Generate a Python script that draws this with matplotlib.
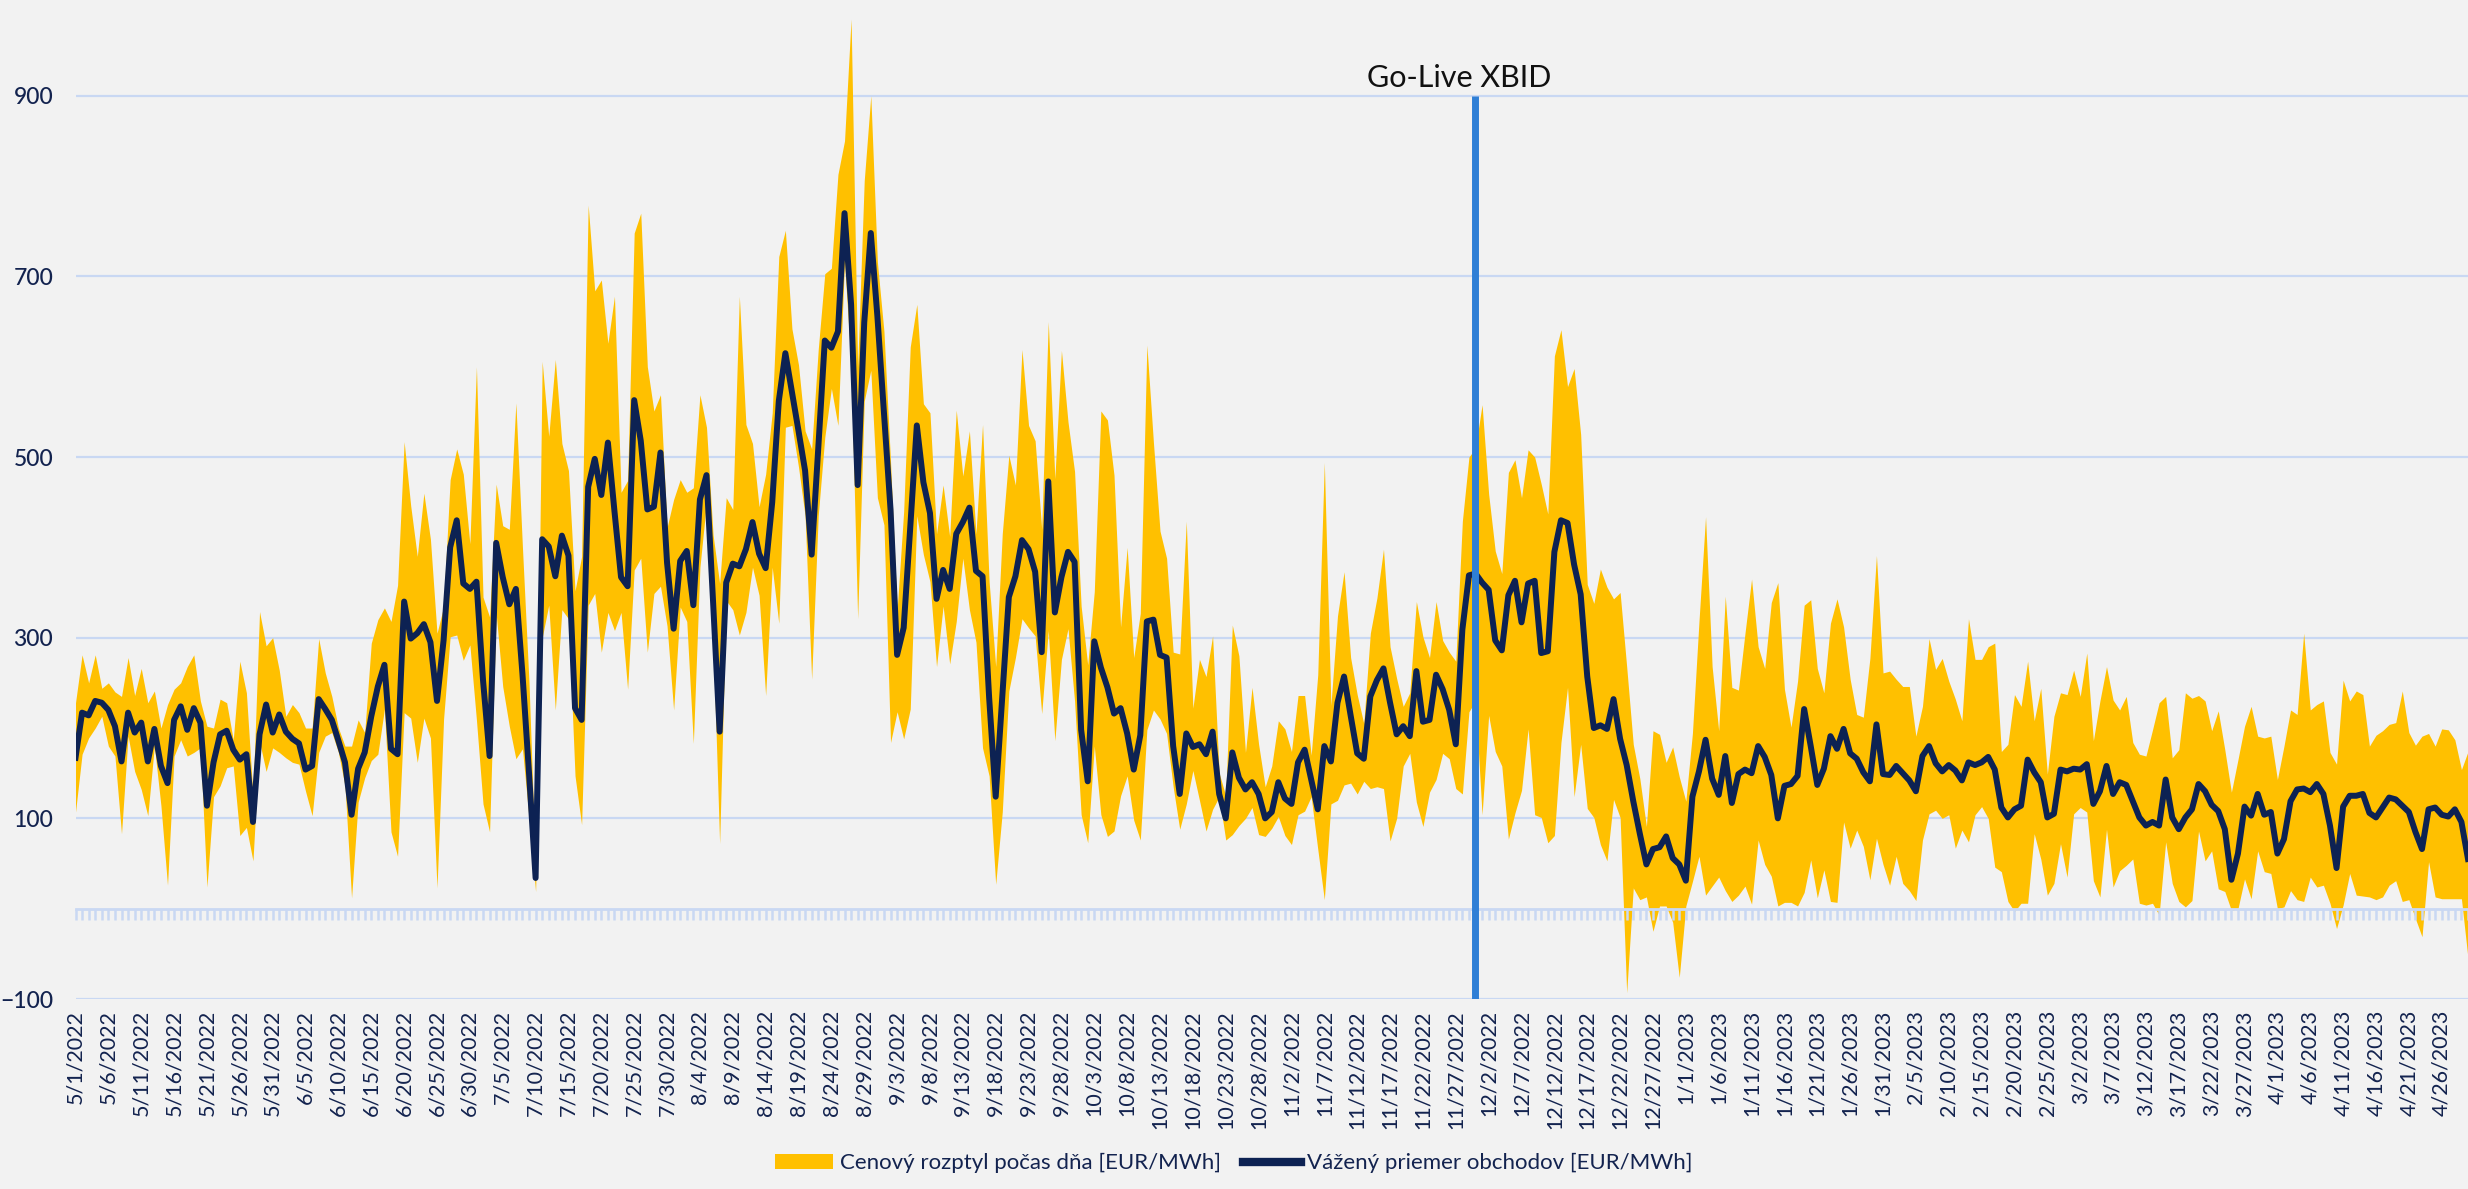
import matplotlib
matplotlib.use("Agg")
import matplotlib.pyplot as plt
from matplotlib import font_manager
from matplotlib.patches import Patch
from matplotlib.lines import Line2D
import numpy as np
import pandas as pd

# daily values 5/1/2022 - 4/30/2023
dates = pd.date_range("2022-05-01", "2023-04-30", freq="D")
date_labels = [f"{d.month}/{d.day}/{d.year}" for d in dates]
go_live = pd.Timestamp("2022-11-30")
go_live_label = "Go-Live XBID"

# weighted average of trades [EUR/MWh]
avg = [
    167, 217, 214, 230, 228, 220, 202, 163, 217, 195, 206, 163, 199, 158, 139, 209, 224, 198,
    222, 206, 114, 162, 193, 197, 176, 165, 171, 96, 193, 226, 195, 215, 196, 188, 183, 154,
    158, 232, 221, 209, 186, 162, 104, 155, 173, 213, 246, 270, 177, 171, 340, 299, 305, 315,
    295, 230, 297, 400, 430, 360, 354, 362, 253, 169, 405, 367, 337, 354, 260, 150, 34,
    409, 401, 368, 413, 391, 222, 209, 467, 498, 458, 516, 440, 367, 357, 563, 518, 442, 445,
    505, 383, 310, 385, 396, 336, 453, 480, 340, 196, 361, 382, 379, 398, 428, 393, 377, 450,
    562, 615,
    572, 529, 485, 392, 509, 629, 621, 639, 770, 669, 469, 649, 748, 656, 549, 442, 281, 311,
    422, 535, 472, 438, 343, 375, 354, 415, 428, 444, 374, 368, 234, 124, 234, 345, 368, 408, 398,
    373, 284, 473, 328, 367, 395, 384, 198, 141, 296, 267, 245, 216, 222, 194, 154, 192, 318,
    320, 281, 278, 180, 127, 194, 179, 182, 171, 196, 127, 100, 173, 145, 132, 140, 127, 100,
    107, 140, 122, 116, 162, 176, 143, 110, 180, 163, 228, 257, 214, 172, 166, 235, 253, 266,
    228, 193, 202, 191, 263, 207, 209, 259, 243, 220, 182, 309, 369, 371, 361, 353, 297, 286, 347,
    363, 317, 360, 363, 283, 285, 395, 430, 427, 381, 348, 257, 200, 203, 199, 232, 188, 159,
    119, 83, 49, 66, 68, 80, 56, 49, 31, 124, 152, 187, 144, 126, 169, 117, 149, 154,
    150, 180, 168, 148, 100, 136, 138, 147, 221, 180, 137, 155, 191, 177, 199, 172, 166, 151,
    141, 204, 149, 148, 158, 150, 142, 130, 169, 180, 161, 152, 159, 153, 142, 162, 159, 162, 168,
    154, 112, 101, 110, 114, 165, 151, 140, 101, 105, 154, 152, 155, 154, 160, 116, 130, 158,
    127, 140, 137, 119, 101, 92, 96, 92, 143, 101, 88, 101, 110, 138, 130, 115, 108, 88,
    32, 61, 113, 103, 127, 104, 107, 61, 77, 119, 132, 133, 129, 138, 127, 92, 45, 113,
    125, 125, 127, 106, 101, 112, 123, 121, 114, 107, 85, 66, 110, 112, 104, 102, 110, 96, 55,
]

# daily maximum price
upper = [
    228, 281, 250, 281, 244, 250, 240, 235, 278, 236, 266, 228, 241, 200, 226, 243, 250, 268,
    281, 230, 202, 200, 232, 228, 187, 274, 239, 125, 329, 291, 300, 264, 213, 226, 217, 200,
    200, 299, 261, 235, 200, 180, 180, 209, 195, 294, 320, 333, 318, 358, 517, 446, 390, 460,
    409, 305, 334, 475, 509, 481, 404, 600, 345, 323, 470, 424, 420, 560, 400, 250, 45,
    606, 523, 608, 515, 485, 352, 390, 779, 684, 696, 626, 678, 461, 474, 748, 770, 600, 551,
    569, 422, 453, 475, 461, 466, 569, 533, 414, 360, 455, 442, 678, 536, 515, 445, 481, 549,
    722, 751,
    642, 602, 529, 509, 619, 703, 709, 813, 850, 985, 600, 806, 900, 716, 639, 495, 330, 440,
    622, 669, 559, 549, 415, 469, 412, 552, 479, 529, 415, 536, 362, 268, 415, 502, 469, 619, 535,
    518, 420, 650, 476, 618, 539, 484, 335, 270, 351, 551, 541, 480, 312, 400, 278, 327, 624,
    516, 418, 388, 284, 282, 429, 222, 276, 257, 302, 150, 125, 314, 280, 173, 245, 182, 135,
    158, 208, 199, 174, 236, 236, 170, 259, 494, 225, 324, 373, 278, 237, 205, 305, 344, 398,
    290, 255, 224, 239, 340, 301, 278, 340, 297, 284, 274, 429, 500, 510, 558, 459, 396, 371, 483,
    497, 455, 508, 500, 470, 437, 612, 641, 578, 598, 525, 359, 338, 376, 356, 343, 350, 268,
    182, 144, 91, 197, 193, 162, 179, 146, 119, 194, 318, 434, 268, 197, 346, 245, 242, 305,
    365, 290, 266, 339, 361, 243, 201, 252, 336, 342, 266, 239, 316, 343, 312, 254, 215, 212,
    277, 391, 261, 263, 254, 246, 246, 191, 224, 299, 265, 277, 252, 232, 208, 321, 276, 276, 290,
    294, 174, 182, 237, 224, 274, 208, 244, 149, 213, 239, 237, 264, 235, 283, 186, 230, 268,
    231, 220, 235, 184, 171, 169, 198, 228, 235, 167, 176, 239, 233, 236, 230, 197, 219, 176,
    129, 165, 202, 224, 191, 189, 191, 143, 180, 220, 215, 305, 220, 226, 230, 173, 160, 253,
    230, 241, 237, 180, 192, 197, 204, 206, 241, 195, 181, 191, 194, 180, 199, 198, 187, 154, 174,
]

# daily minimum price
lower = [
    107, 171, 189, 200, 213, 180, 169, 83, 191, 152, 132, 103, 180, 114, 26, 169, 187, 169,
    173, 178, 24, 124, 136, 156, 158, 81, 90, 53, 185, 152, 178, 173, 167, 162, 160, 130,
    103, 173, 191, 195, 173, 136, 12, 118, 145, 164, 171, 221, 85, 58, 217, 211, 162, 211,
    189, 23, 210, 301, 303, 275, 292, 209, 116, 85, 327, 246, 202, 166, 177, 100, 19,
    300, 336, 220, 331, 321, 147, 93, 336, 349, 284, 328, 308, 328, 243, 375, 388, 284, 349,
    357, 313, 220, 334, 318, 183, 378, 450, 300, 72, 341, 331, 303, 328, 378, 347, 236, 378,
    316, 533,
    535, 489, 435, 254, 435, 522, 576, 535, 716, 602, 321, 562, 596, 455, 425, 184, 218, 188,
    221, 435, 392, 362, 268, 335, 271, 318, 388, 331, 295, 178, 147, 27, 107, 241, 278, 321, 311,
    302, 216, 308, 186, 276, 310, 230, 104, 73, 180, 104, 80, 86, 125, 147, 98, 76, 198,
    220, 210, 194, 135, 88, 116, 153, 120, 86, 110, 124, 76, 82, 92, 100, 112, 82, 80,
    89, 102, 81, 71, 104, 108, 124, 66, 10, 116, 120, 137, 139, 127, 141, 133, 135, 133,
    75, 100, 158, 172, 118, 91, 129, 143, 172, 166, 133, 127, 218, 230, 104, 214, 174, 158, 77,
    106, 131, 199, 104, 101, 73, 81, 184, 245, 124, 182, 111, 101, 71, 53, 121, 101, -93,
    23, 10, 13, -25, 3, 3, -15, -76, 3, 30, 58, 15, 25, 35, 20, 8, 15, 25,
    5, 76, 49, 36, 3, 7, 7, 3, 18, 54, 12, 43, 8, 7, 96, 67, 87, 69,
    32, 78, 49, 26, 58, 28, 20, 9, 76, 105, 109, 100, 104, 67, 87, 74, 104, 113, 100,
    46, 41, 8, -3, 6, 6, 83, 55, 15, 28, 72, 35, 105, 112, 107, 31, 13, 88,
    24, 42, 48, 55, 6, 4, 6, -7, 74, 28, 8, 2, 9, 86, 53, 64, 22, 19,
    -2, 0, 33, 11, 64, 41, 39, 0, 2, 20, 10, 8, 35, 24, 26, 6, -22, 4,
    39, 15, 14, 13, 10, 13, 26, 31, 8, 10, -11, -31, 52, 13, 11, 11, 11, 11, -55,
]

y_ticks = [-100, 100, 300, 500, 700, 900]
legend_labels = ["Cenový rozptyl počas dňa [EUR/MWh]", "Vážený priemer obchodov [EUR/MWh]"]

# fonts: pick what is installed
installed = {f.name for f in font_manager.fontManager.ttflist}
main_font = "Lato" if "Lato" in installed else "DejaVu Sans"
narrow_font = main_font
for cand in ["Liberation Sans Narrow", "DejaVu Sans Condensed"]:
    if cand in installed:
        narrow_font = cand
        break

bg = "#F2F2F2"
yellow = "#FFC000"
navy = "#0D2253"
grid_c = "#C9D8F3"
text_c = "#13234F"
blue = "#2F7FD6"

days = np.arange(len(dates))
x_go = dates.get_loc(go_live) - 0.15

fig = plt.figure(figsize=(24.68, 11.89), dpi=100, facecolor=bg)
ax = fig.add_axes([75.5 / 2468, 190 / 1189, 1 - 75.5 / 2468, 1 - 190 / 1189])
ax.set_facecolor(bg)

for yv in y_ticks:
    ax.axhline(yv, color=grid_c, lw=1.6, zorder=0.5)

ax.fill_between(days, lower, upper, color=yellow, linewidth=0, zorder=1)
ax.plot(days, avg, color=navy, lw=4.3, solid_joinstyle="round", zorder=2)
ax.vlines(x_go, -100, 900, color=blue, lw=5, zorder=4)
ax.text(x_go - 2.3, 910, go_live_label, ha="center", va="baseline",
        fontsize=22, color="#111111", family=main_font)

ax.set_xlim(0, len(dates) - 1)
ax.set_ylim(-100, 1006)

for s in ["top", "right", "left"]:
    ax.spines[s].set_visible(False)
ax.spines["bottom"].set_position(("data", 0))
ax.spines["bottom"].set_color(grid_c)
ax.spines["bottom"].set_linewidth(2)
ax.spines["bottom"].set_zorder(3)

ax.set_xticks(days)
ax.tick_params(axis="x", direction="out", length=8, width=1.8, color=grid_c,
               labelbottom=False)
ax.set_yticks(y_ticks)
ax.tick_params(axis="y", length=0, pad=16, labelsize=16.5, labelcolor=text_c)
for lbl in ax.get_yticklabels():
    lbl.set_family(main_font)
    lbl.set_fontweight("medium")

# date labels sit at the bottom of the plot, below -100
sec = ax.secondary_xaxis("bottom")
sec.set_xticks(days[::5], labels=date_labels[::5])
sec.tick_params(length=0, pad=8, labelrotation=90, labelsize=15.5, labelcolor=text_c)
sec.spines["bottom"].set_visible(False)
for lbl in sec.get_xticklabels():
    lbl.set_family(narrow_font)
    lbl.set_verticalalignment("top")

handles = [Patch(facecolor=yellow, edgecolor="none"),
           Line2D([0], [0], color=navy, lw=6)]
leg = fig.legend(handles, legend_labels, loc="lower center", bbox_to_anchor=(0.5, 0.0),
                 ncol=2, frameon=False, handlelength=2.6, handletextpad=0.3,
                 columnspacing=1.0, borderaxespad=0.3,
                 prop={"family": main_font, "size": 16}, labelcolor=text_c)

fig.savefig("out.png", dpi=100, facecolor=bg)
